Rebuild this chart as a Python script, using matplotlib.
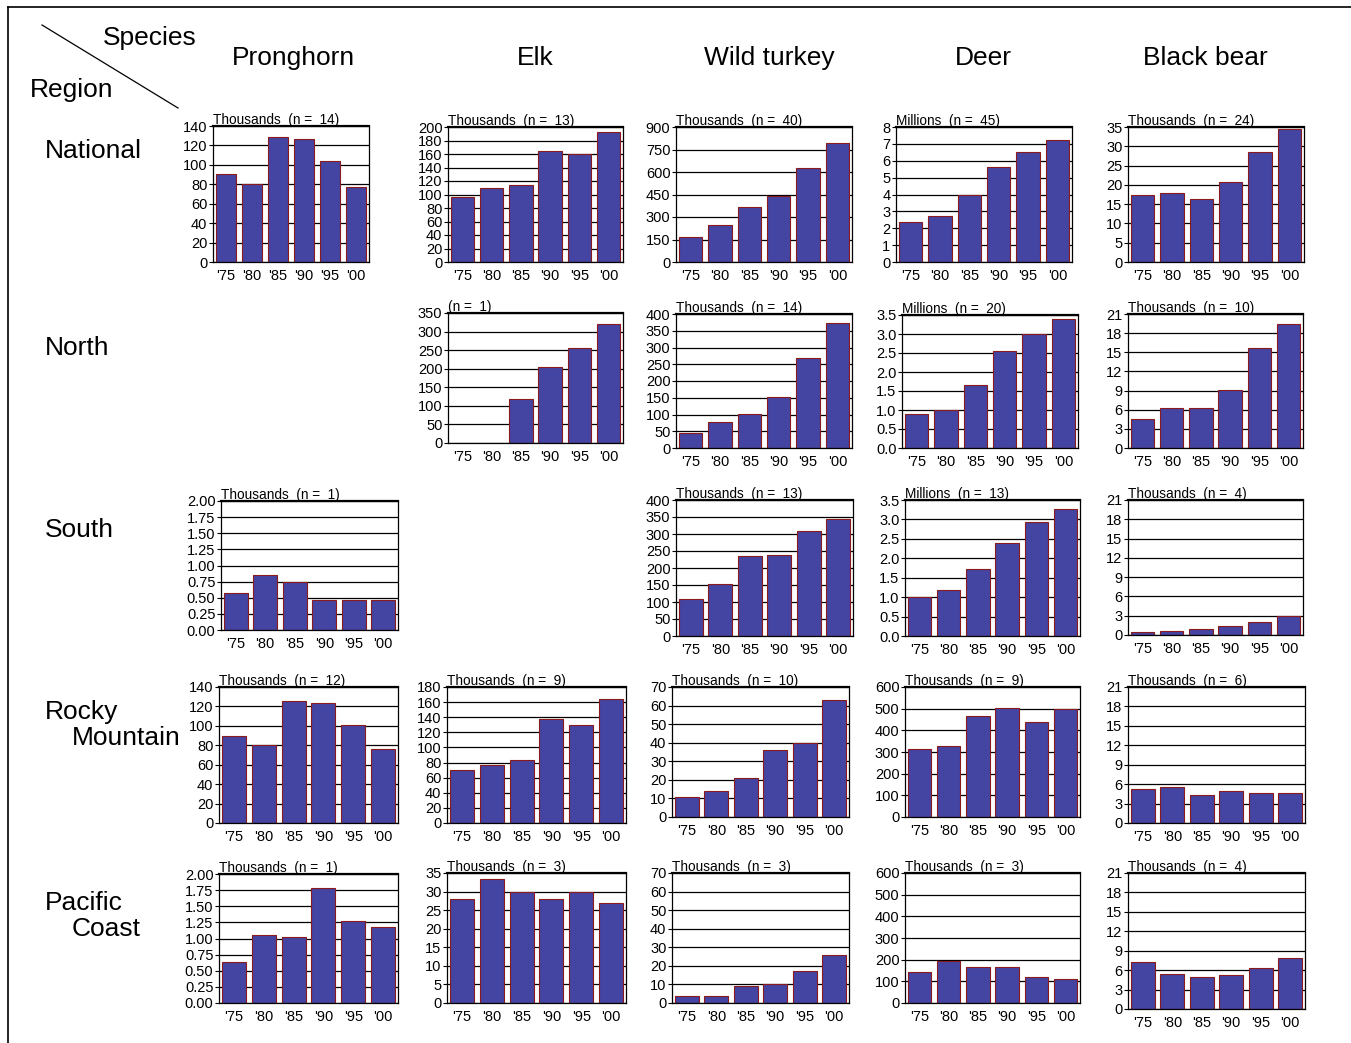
import numpy as np
import matplotlib.pyplot as plt
from matplotlib.lines import Line2D
from matplotlib.ticker import FormatStrFormatter

plt.rcParams['font.family'] = ['Liberation Sans', 'DejaVu Sans']

# -----------------------
# Data
# -----------------------
years = ["'75", "'80", "'85", "'90", "'95", "'00"]
species = ["Pronghorn", "Elk", "Wild turkey", "Deer", "Black bear"]
regions = [["National"], ["North"], ["South"], ["Rocky", "Mountain"], ["Pacific", "Coast"]]

# National
nat_pronghorn = [91, 80, 129, 127, 104, 77]
nat_elk = [97, 110, 114, 165, 160, 192]
nat_turkey = [165, 250, 365, 440, 630, 795]
nat_deer = [2.35, 2.75, 4.0, 5.65, 6.5, 7.25]
nat_bear = [17.5, 17.8, 16.3, 20.7, 28.5, 34.5]

# North
north_elk = [np.nan, np.nan, 118, 205, 257, 320]
north_turkey = [45, 78, 101, 153, 268, 372]
north_deer = [0.9, 1.0, 1.65, 2.55, 3.0, 3.4]
north_bear = [4.5, 6.3, 6.2, 9.1, 15.6, 19.4]

# South
south_pronghorn = [0.58, 0.85, 0.75, 0.46, 0.47, 0.47]
south_turkey = [109, 153, 235, 238, 309, 344]
south_deer = [1.0, 1.18, 1.72, 2.39, 2.93, 3.27]
south_bear = [0.4, 0.6, 0.9, 1.4, 2.0, 2.9]

# Rocky Mountain
rocky_pronghorn = [90, 80, 126, 124, 101, 76]
rocky_elk = [70, 77, 84, 138, 130, 164]
rocky_turkey = [11, 14, 21, 36, 40, 63]
rocky_deer = [315, 330, 465, 505, 440, 500]
rocky_bear = [5.3, 5.5, 4.4, 5.0, 4.6, 4.6]

# Pacific Coast
pac_pronghorn = [0.63, 1.05, 1.02, 1.78, 1.27, 1.18]
pac_elk = [28, 33.5, 30, 28, 30, 27]
pac_turkey = [4, 4, 9, 10, 17, 26]
pac_deer = [145, 195, 165, 165, 120, 110]
pac_bear = [7.2, 5.4, 5.0, 5.3, 6.3, 7.8]

# -----------------------
# Panels: (values, unit label, ymax, step, tick format, box in px)
# box = (left, top, right, bottom)
# -----------------------
panels = [
    (nat_pronghorn, "Thousands  (n =  14)", 140, 20, "%d", (213, 126, 369, 262)),
    (nat_elk, "Thousands  (n =  13)", 200, 20, "%d", (448, 127, 623, 262)),
    (nat_turkey, "Thousands  (n =  40)", 900, 150, "%d", (676, 127, 852, 262)),
    (nat_deer, "Millions  (n =  45)", 8, 1, "%d", (896, 127, 1072, 262)),
    (nat_bear, "Thousands  (n =  24)", 35, 5, "%d", (1128, 127, 1304, 262)),

    (north_elk, "(n =  1)", 350, 50, "%d", (448, 313, 623, 443)),
    (north_turkey, "Thousands  (n =  14)", 400, 50, "%d", (676, 314, 852, 448)),
    (north_deer, "Millions  (n =  20)", 3.5, 0.5, "%.1f", (902, 315, 1078, 448)),
    (north_bear, "Thousands  (n =  10)", 21, 3, "%d", (1128, 314, 1303, 448)),

    (south_pronghorn, "Thousands  (n =  1)", 2.0, 0.25, "%.2f", (221, 501, 398, 630)),
    (south_turkey, "Thousands  (n =  13)", 400, 50, "%d", (676, 500, 853, 636)),
    (south_deer, "Millions  (n =  13)", 3.5, 0.5, "%.1f", (905, 500, 1080, 636)),
    (south_bear, "Thousands  (n =  4)", 21, 3, "%d", (1128, 500, 1303, 635)),

    (rocky_pronghorn, "Thousands  (n =  12)", 140, 20, "%d", (219, 687, 398, 823)),
    (rocky_elk, "Thousands  (n =  9)", 180, 20, "%d", (447, 687, 626, 823)),
    (rocky_turkey, "Thousands  (n =  10)", 70, 10, "%d", (672, 687, 849, 817)),
    (rocky_deer, "Thousands  (n =  9)", 600, 100, "%d", (905, 687, 1080, 817)),
    (rocky_bear, "Thousands  (n =  6)", 21, 3, "%d", (1128, 687, 1305, 823)),

    (pac_pronghorn, "Thousands  (n =  1)", 2.0, 0.25, "%.2f", (219, 874, 398, 1003)),
    (pac_elk, "Thousands  (n =  3)", 35, 5, "%d", (447, 873, 626, 1003)),
    (pac_turkey, "Thousands  (n =  3)", 70, 10, "%d", (672, 873, 849, 1003)),
    (pac_deer, "Thousands  (n =  3)", 600, 100, "%d", (905, 873, 1080, 1003)),
    (pac_bear, "Thousands  (n =  4)", 21, 3, "%d", (1128, 873, 1305, 1009)),
]

W, H = 1351, 1043
BAR_COLOR = "#4444a2"
EDGE_COLOR = "#8b1a1a"

fig = plt.figure(figsize=(W / 100, H / 100), dpi=100)


def px_box(l, t, r, b):
    return [l / W, 1 - b / H, (r - l) / W, (b - t) / H]


for values, label, ymax, step, fmt, box in panels:
    ax = fig.add_axes(px_box(*box))
    vals = np.array(values, dtype=float)
    x = np.arange(len(years))
    ok = ~np.isnan(vals)
    ax.bar(x[ok], vals[ok], width=0.8, color=BAR_COLOR,
           edgecolor=EDGE_COLOR, linewidth=0.8, zorder=2)
    ax.set_xlim(-0.5, 5.5)
    ax.set_ylim(0, ymax)
    ax.set_yticks(np.arange(0, ymax + step / 2, step))
    ax.yaxis.set_major_formatter(FormatStrFormatter(fmt))
    ax.set_xticks(x)
    ax.set_xticklabels(years)
    ax.yaxis.grid(True, color="black", linewidth=0.9, zorder=1)
    ax.set_axisbelow(True)
    ax.tick_params(axis="x", length=0, pad=5, labelsize=10.5)
    ax.tick_params(axis="y", length=3, pad=1, labelsize=10.5, width=0.8)
    for s in ax.spines.values():
        s.set_linewidth(0.9)
    ax.spines["top"].set_linewidth(1.6)
    ax.text(0, 0.995, label, transform=ax.transAxes, ha="left",
            va="bottom", fontsize=9.8)

# -----------------------
# Headers
# -----------------------
header_x = [293, 535, 769, 983, 1205]
for name, hx in zip(species, header_x):
    fig.text(hx / W, 1 - 58 / H, name, ha="center", va="center", fontsize=19)

row_y = [151, 348, 530, 712, 903]
for lines, ry in zip(regions, row_y):
    fig.text(45 / W, 1 - ry / H, lines[0], ha="left", va="center", fontsize=19)
    if len(lines) > 1:
        fig.text(72 / W, 1 - (ry + 26) / H, lines[1], ha="left",
                 va="center", fontsize=19)

fig.text(150 / W, 1 - 38 / H, "Species", ha="center", va="center", fontsize=19)
fig.text(72 / W, 1 - 90 / H, "Region", ha="center", va="center", fontsize=19)
fig.add_artist(Line2D([42 / W, 178 / W], [1 - 25 / H, 1 - 108 / H],
                      color="black", linewidth=0.9))

# frame
fig.add_artist(Line2D([8 / W, 8 / W], [0, 1 - 7 / H], color="black", linewidth=1.2))
fig.add_artist(Line2D([8 / W, 1], [1 - 7 / H, 1 - 7 / H], color="black", linewidth=1.2))

fig.savefig("out.png", dpi=100)
